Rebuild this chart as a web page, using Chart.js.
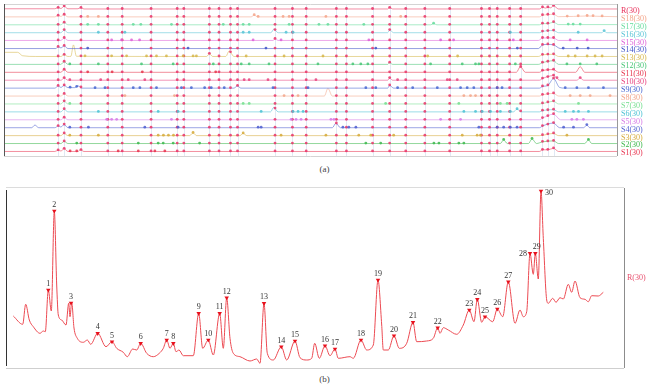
<!DOCTYPE html>
<html lang="en">
<head>
<meta charset="UTF-8">
<title>HPLC fingerprints</title>
<script src="https://cdn.jsdelivr.net/npm/chart.js@4.4.1/dist/chart.umd.min.js"></script>
<style>
  body { margin: 0; background: #fff; width: 649px; height: 388px; position: relative; overflow: hidden; font-family: "Liberation Serif", serif; }
  canvas { position: absolute; left: 0; }
  #topChart { top: 0; }
  #refChart { top: 180px; }
  .cap { position: absolute; left: 0; width: 649px; text-align: center; font-size: 9px; color: #444; }
</style>
</head>
<body>
<canvas id="topChart" width="649" height="160"></canvas>
<div class="cap" style="top:164px">(a)</div>
<canvas id="refChart" width="649" height="194"></canvas>
<div class="cap" style="top:374px">(b)</div>

<script>
// common peaks (retention time, min) and their height in the reference chromatogram
const peakLabels = ['1','2','3','4','5','6','7','8','9','10','11','12','13','14','15','16','17','18','19','20','21','22','23','24','25','26','27','28','29','30'];
const peakTimes = [4.23,4.83,6.5,9.17,10.6,13.47,16.07,16.73,19.27,20.23,21.37,22.07,25.8,27.53,28.9,31.9,32.9,35.5,37.2,38.8,40.7,43.17,46.33,47.13,47.9,49.13,50.23,52.4,52.93,53.5];
const peakSignal = [78,157,65,34.7,26.3,24.7,28,24.7,54.7,28,54.7,70.3,64.7,21.3,27,22.3,19,28,88,32.3,45.7,40.3,58,68.7,51.3,59,86.3,114.7,114.7,177];

// reference fingerprint R(30), [time, signal]
const refTrace = [
  [0.73,52],[1.67,43.7],[1.97,63.7],[2.33,48],[2.73,41.3],[3.4,34.7],[3.73,37],[3.93,36.3],
  [4.23,78],[4.53,57],[4.83,157],[5.07,83],[5.23,53],[5.57,48],[6.0,43],[6.27,64.7],[6.4,51.3],
  [6.57,65.7],[6.8,40],[7.13,29.7],[7.73,25.7],[8.13,28],[8.47,23.7],[9.17,34.7],[10.0,21.3],
  [10.6,26.3],[11.07,19.7],[11.73,15.7],[12.13,11.3],[12.67,19],[13.07,18],[13.47,24.7],[14.07,14.7],
  [14.73,11.3],[15.33,14.7],[15.73,19.7],[16.07,28],[16.4,19.7],[16.73,24.7],[17.0,16.3],[17.3,18],
  [17.73,12.3],[18.73,12.3],[19.27,54.7],[19.67,19.7],[20.23,28],[20.73,13],[21.37,54.7],[21.73,19.7],
  [22.07,70.3],[22.4,29.7],[22.73,14.7],[23.4,11.3],[24.4,7],[25.07,9],[25.4,4.7],[25.8,64.7],
  [26.13,14.7],[26.73,8],[27.53,21.3],[28.07,8],[28.9,27],[29.4,10.3],[30.07,8],[30.57,9.7],
  [30.87,24.7],[31.33,9.7],[31.9,22.3],[32.4,12.3],[32.9,19],[33.23,9.7],[34.4,11.3],[34.73,9.7],
  [35.5,28],[36.07,18],[36.73,23],[37.2,88],[37.57,43],[37.73,18],[38.23,18],[38.8,32.3],
  [39.33,19.7],[40.07,24.7],[40.7,45.7],[41.07,26.3],[42.07,27],[42.73,29.7],[43.17,40.3],[43.4,34.7],
  [43.73,40.3],[44.23,38],[45.07,33.7],[45.73,43],[46.33,58],[46.8,46.3],[47.13,68.7],[47.57,45.7],
  [47.9,51.3],[48.67,46.3],[49.13,59],[49.67,51.3],[50.23,86.3],[50.9,44.7],[51.4,58],[51.73,51.3],
  [52.07,56.3],[52.4,114.7],[52.73,93.7],[52.93,114.7],[53.23,89],[53.5,177],[53.73,129.7],[54.07,68],
  [54.23,64.7],[54.67,69.7],[55.0,65.7],[55.4,70.3],[55.73,69],[56.23,83.7],[56.57,75.7],[56.9,87],
  [57.4,70.3],[57.9,68.7],[58.23,66.3],[58.57,72.3],[59.23,72],[59.73,75.7]
];

// sample fingerprints (a), [time, signal]
const sampleNames = ['R(30)','S18(30)','S17(30)','S16(30)','S15(30)','S14(30)','S13(30)','S12(30)','S11(30)','S10(30)','S9(30)','S8(30)','S7(30)','S6(30)','S5(30)','S4(30)','S3(30)','S2(30)','S1(30)'];

const trR   = [[-1.2,0.5],[3.9,0.5],[4.23,1.5],[4.5,0.8],[4.83,3],[5.2,0.5],[6.2,0.5],[6.45,1.5],[6.8,0.3],[37,0.3],[37.2,1.5],[37.5,0.3],[52.1,0.3],[52.4,2],[52.7,1.2],[52.93,2],[53.2,1.5],[53.5,3.5],[54,0.3],[59.9,0.3]];
const trS18 = [[-1.2,0.3],[3.9,0.3],[4.23,1.5],[4.5,0.8],[4.83,2.5],[5.2,0.3],[23.4,0.3],[23.73,2],[24.1,0.3],[52.1,0.3],[52.4,2],[52.93,2.5],[53.5,3],[54,0.5],[55.5,0.8],[56.8,1.2],[58.3,0.8],[59.9,0.5]];
const trS17 = [[-1.2,0.3],[4.5,0.3],[4.83,2.5],[5.2,0.3],[41.3,0.3],[41.57,1.5],[41.9,0.3],[52.1,0.3],[52.4,1.5],[52.93,1.5],[53.5,3],[54,0.5],[59.9,0.5]];
const trS16 = [[-1.2,0.3],[4.5,0.3],[4.83,3],[5.2,0.3],[25.4,0.3],[25.68,4],[26.1,0.3],[37,0.3],[37.2,3],[37.6,0.3],[52.1,0.3],[52.4,1.5],[53.5,2.5],[54,0.3],[58.3,0.3],[58.53,2],[58.8,0.3],[59.9,0.3]];
const trS15 = [[-1.2,0.5],[4.5,0.5],[4.83,3],[5.2,0.5],[25.6,0.5],[25.8,2],[26.1,0.5],[52,0.5],[52.4,3],[52.93,3],[53.5,3],[54,0.5],[59.9,0.5]];
const trS14 = [[-1.2,0.3],[4,0.3],[4.23,2],[4.5,1],[4.83,3],[5.2,0.3],[52,0.3],[52.4,4],[52.93,4.5],[53.5,4],[54.2,0.3],[59.9,0.3]];
const trS13 = [[-1.2,4.5],[0.2,4.5],[0.7,1],[2,0.3],[4.5,0.3],[4.83,2],[5.2,0.3],[5.5,0.5],[5.75,12],[6.05,0.5],[19,0.3],[19.27,3],[19.6,0.3],[20.9,0.3],[21.25,6],[21.7,0.3],[52,0.3],[52.4,2],[53.5,2.5],[54,0.3],[59.9,0.3]];
const trS12 = [[-1.2,0.3],[4.5,0.3],[4.83,3],[5.2,0.3],[37,0.3],[37.2,2],[37.5,0.3],[52,0.3],[52.4,2],[53.5,4],[54,0.3],[59.9,0.3]];
const trS11 = [[-1.2,0.3],[4.5,0.3],[4.83,3],[5.2,0.3],[49.8,0.3],[50.2,6],[50.7,0.3],[52.1,0.3],[52.4,2],[53.5,3],[54,0.3],[55.7,0.3],[56.15,6],[56.6,0.3],[59.9,0.3]];
const trS10 = [[-1.2,0.3],[4.5,0.3],[4.83,2.5],[5.2,0.3],[37,0.3],[37.2,2.5],[37.5,0.3],[52.1,0.3],[52.4,2],[53.5,5],[54.1,0.3],[55.8,0.3],[56.15,2.5],[56.5,0.3],[59.9,0.3]];
const trS9  = [[-1.2,0.3],[3.9,0.3],[4.23,2.5],[4.5,1],[4.83,3],[5.2,0.8],[5.9,0.8],[6.25,2.5],[6.6,0.3],[21.7,0.3],[22.07,2.5],[22.4,0.3],[37,0.3],[37.2,3],[37.6,0.3],[52.1,0.3],[52.4,2],[52.93,3],[53.5,10],[54.1,1],[54.6,0.3],[59.9,0.3]];
const trS8  = [[-1.2,0.3],[4.5,0.3],[4.83,2.5],[5.2,0.3],[30.7,0.3],[31.06,8],[31.5,0.3],[52.1,0.3],[52.4,1.5],[53.5,3],[54,0.3],[59.9,0.3]];
const trS7  = [[-1.2,0.3],[4.5,0.3],[4.83,3],[5.2,0.3],[52.1,0.3],[53.5,3],[54,0.3],[59.9,0.3]];
const trS6  = [[-1.2,0.3],[4.5,0.3],[4.83,3],[5.2,0.3],[25.35,0.3],[25.68,5],[26.1,0.3],[49.5,0.3],[49.87,3],[50.3,0.3],[52.1,0.3],[52.4,1.5],[53.5,2.5],[54,0.3],[59.9,0.3]];
const trS5  = [[-1.2,0.3],[4.5,0.3],[4.83,2.5],[5.2,0.3],[52.1,0.3],[52.4,2],[53.5,6],[54.2,0.3],[59.9,0.3]];
const trS4  = [[-1.2,0.3],[1.6,0.3],[1.92,3],[2.3,0.3],[3.9,0.3],[4.23,2],[4.5,1],[4.83,3.5],[5.2,0.3],[31.5,0.3],[31.86,5],[32.3,0.3],[52.1,0.3],[52.4,2],[53.5,5],[54.1,0.3],[56.5,0.3],[56.81,3],[57.1,0.3],[59.9,0.3]];
const trS3  = [[-1.2,0.3],[4.5,0.3],[4.83,2.5],[5.2,0.3],[17.3,0.3],[17.65,3],[18,0.3],[22.3,0.3],[22.63,2.5],[23,0.3],[52.1,0.3],[53.5,2.5],[54,0.3],[59.9,0.3]];
const trS2  = [[-1.2,0.3],[4.5,0.3],[4.83,2.5],[5.2,0.3],[48.2,0.3],[48.54,4],[48.9,0.3],[51,0.3],[51.36,5],[51.8,0.3],[52.4,2],[53.5,3],[54,0.3],[56.6,0.3],[56.97,4],[57.3,0.3],[59.9,0.3]];
const trS1  = [[-1.2,0.3],[3.9,0.3],[4.23,1.5],[4.5,0.8],[4.83,3],[5.2,0.3],[6.2,0.3],[6.45,2],[6.8,0.3],[52.1,0.3],[52.4,2],[52.93,2],[53.5,3.5],[54,0.3],[59.9,0.3]];

// peaks found only in each sample (min)
const ownR   = [];
const ownS18 = [7.17,8.23,23.73,24.12,26.6,27.2,30.86,38.3,54.86,55.95,56.84,57.43,58.33];
const ownS17 = [7.17,8.23,11.7,12.45,15.5,20.65,22.63,23.23,27.2,30.17,31.06,34.63,41.57,54.96,55.45,56.15];
const ownS16 = [8.23,10.87,22.63,23.23,26.9,27.59,49.2,55.95,58.53];
const ownS15 = [9.55,10.54,11.53,12.33,23.62,26.4,35.13,42.27,43.56,49.5,55.15,56.84];
const ownS14 = [7.17,17.15,24.9,35.82,49.9,54.46,55.85,56.94];
const ownS13 = [6.9,9.55,11.04,13.02,14.01,15.0,16.66,17.65,17.98,22.93,26.7,30.57,40.98,43.96,54.96,55.65,56.84,57.63,58.33];
const ownS12 = [5.39,8.23,12.52,15.67,19.66,22.44,23.23,25.2,30.07,33.54,34.33,35.03,41.27,44.42,45.74,46.07,49.7,54.83,56.15,57.8];
const ownS11 = [7.17,9.6,12.6,19.9];
const ownS10 = [5.39,8.46,11.2,12.85,22.73,23.23,25.1,29.87,37.99,42.93,43.92,53.84,56.15];
const ownS9  = [5.42,6.08,7.9,8.89,11.7,12.36,14.01,16.49,17.48,18.8,19.46,20.75,25.6,29.08,34.83,35.82,37.99,39.49,41.94,44.25,44.91,45.57,47.89,48.38,54.66,55.82,56.97,58.46];
const ownS8  = [10.87,15.8,26.7,28.09,44.58,45.24,45.74,55.15,56.15,57.14,59.12];
const ownS7  = [5.39,22.63,23.23,36.8,44.08,48.21,48.88,55.98];
const ownS6  = [8.23,14.18,16.16,24.42,27.59,28.09,28.59,44.58,45.74,46.4,47.23,48.21,49.2,49.87,54.66,55.48,55.98,56.97];
const ownS5  = [9.06,9.55,10.05,15.5,27.4,27.89,28.39,31.36,31.66,42.27,44.25,55.32,55.82,56.47];
const ownS4  = [5.39,7.24,12.85,16.16,24.12,24.42,32.55,33.14,33.84,46.07,47.89,48.54,49.2,49.87,54.5,55.48,56.81];
const ownS3  = [5.39,8.23,14.18,14.7,15.2,15.7,17.65,22.63,26.4,30.86,34.13,35.32,37.6,44.42,45.9,46.23,54.83];
const ownS2  = [6.08,12.2,14.18,14.68,15.67,18.3,34.83,36.31,41.6,42.1,44.08,44.58,48.54,51.36,56.97];
const ownS1  = [5.42,6.08,10.2,12.2,13.85,14.84];

const sampleTraces = [trR,trS18,trS17,trS16,trS15,trS14,trS13,trS12,trS11,trS10,trS9,trS8,trS7,trS6,trS5,trS4,trS3,trS2,trS1];
const sampleOwn = [ownR,ownS18,ownS17,ownS16,ownS15,ownS14,ownS13,ownS12,ownS11,ownS10,ownS9,ownS8,ownS7,ownS6,ownS5,ownS4,ownS3,ownS2,ownS1];

const sampleColors = ['#e8305a','#f4a58a','#66dc9c','#58c4d6','#de62d8','#4054c8','#d6b64a','#48c676','#e6324a','#e8427e','#4464d0','#f2a488','#74de8e','#4cc2d4','#d67ae6','#4e5ed0','#d6aa3a','#3cb84c','#e8324e'];
const commonDot = '#ea3468';

function valueAt(tr, t) {
  for (let k = 1; k < tr.length; k++) {
    if (t <= tr[k][0]) {
      const [x0, y0] = tr[k - 1], [x1, y1] = tr[k];
      return y0 + (y1 - y0) * (t - x0) / (x1 - x0);
    }
  }
  return tr[tr.length - 1][1];
}
function withAlpha(hex, a) {
  const n = parseInt(hex.slice(1), 16);
  return `rgba(${n >> 16},${(n >> 8) & 255},${n & 255},${a})`;
}
const baseOf = i => 4.3 + 8.02 * (sampleNames.length - 1 - i);

// ---------- (a) stacked fingerprints ----------
const topSets = [];
sampleTraces.forEach((tr, i) => {
  const b = baseOf(i);
  const dots = [], cols = [];
  peakTimes.forEach(t => { dots.push({x: t, y: valueAt(tr, t) + b + 0.5}); cols.push(withAlpha(commonDot, 0.85)); });
  sampleOwn[i].forEach(t => { dots.push({x: t, y: valueAt(tr, t) + b + 0.5}); cols.push(withAlpha(sampleColors[i], 0.85)); });
  topSets.push({
    data: dots, showLine: false, pointRadius: 1.4, pointBorderWidth: 0,
    pointBackgroundColor: cols, order: 0
  });
  topSets.push({
    data: tr.map(p => ({x: p[0], y: p[1] + b})),
    showLine: true, borderColor: withAlpha(sampleColors[i], 0.62), borderWidth: 0.9,
    pointRadius: 0, cubicInterpolationMode: 'monotone', order: 1
  });
});

new Chart(document.getElementById('topChart'), {
  type: 'scatter',
  data: { datasets: topSets },
  options: {
    responsive: false, animation: false,
    layout: { padding: { left: 2, right: 32, top: 2, bottom: 4 } },
    plugins: { legend: { display: false }, tooltip: { enabled: false } },
    scales: {
      x: { type: 'linear', min: -1.155, max: 59.81, display: false },
      y: { min: 0, max: 154, display: false }
    }
  },
  plugins: [{
    id: 'topDecor',
    beforeDatasetsDraw(chart) {
      const { ctx, chartArea: a, scales } = chart;
      ctx.save();
      ctx.strokeStyle = 'rgba(170,188,220,0.35)';
      ctx.lineWidth = 1;
      peakTimes.forEach(t => {
        const x = Math.round(scales.x.getPixelForValue(t)) + 0.5;
        ctx.beginPath(); ctx.moveTo(x, a.top); ctx.lineTo(x, a.bottom); ctx.stroke();
      });
      ctx.restore();
    },
    afterDraw(chart) {
      const { ctx, chartArea: a, scales } = chart;
      ctx.save();
      ctx.lineWidth = 1;
      ctx.strokeStyle = '#d4d4d4';
      ctx.beginPath();
      ctx.moveTo(a.left, a.top + 0.5); ctx.lineTo(a.right, a.top + 0.5);
      ctx.moveTo(a.left, a.bottom + 0.5); ctx.lineTo(a.right, a.bottom + 0.5);
      ctx.stroke();
      ctx.strokeStyle = '#9a9a9a';
      ctx.beginPath(); ctx.moveTo(a.right + 0.5, a.top); ctx.lineTo(a.right + 0.5, a.bottom); ctx.stroke();
      ctx.strokeStyle = '#555';
      ctx.beginPath(); ctx.moveTo(a.left + 0.5, a.top); ctx.lineTo(a.left + 0.5, a.bottom); ctx.stroke();
      ctx.font = '8px "Liberation Serif"';
      ctx.textBaseline = 'middle';
      sampleNames.forEach((name, i) => {
        ctx.fillStyle = sampleColors[i];
        ctx.fillText(name, a.right + 4, scales.y.getPixelForValue(baseOf(i)) + 1.5);
      });
      ctx.restore();
    }
  }]
});

// ---------- (b) reference fingerprint ----------
new Chart(document.getElementById('refChart'), {
  type: 'scatter',
  data: {
    datasets: [
      {
        data: peakTimes.map((t, i) => ({x: t, y: peakSignal[i]})),
        showLine: false, pointStyle: 'triangle', rotation: 180, pointRadius: 2.6,
        pointBackgroundColor: '#e8101c', pointBorderWidth: 0, order: 0
      },
      {
        data: refTrace.map(p => ({x: p[0], y: p[1]})),
        showLine: true, borderColor: '#ec4a52', borderWidth: 1, pointRadius: 0,
        cubicInterpolationMode: 'monotone', order: 1
      }
    ]
  },
  options: {
    responsive: false, animation: false,
    layout: { padding: { left: 6, right: 25, top: 8, bottom: 6 } },
    plugins: { legend: { display: false }, tooltip: { enabled: false } },
    scales: {
      x: { type: 'linear', min: 0, max: 61.8, display: false },
      y: { min: 0, max: 180, display: false }
    }
  },
  plugins: [{
    id: 'refDecor',
    afterDraw(chart) {
      const { ctx, chartArea: a, scales } = chart;
      ctx.save();
      ctx.lineWidth = 1;
      ctx.strokeStyle = '#dcdcdc';
      ctx.beginPath(); ctx.moveTo(a.left, a.top - 0.5); ctx.lineTo(a.right, a.top - 0.5); ctx.stroke();
      ctx.strokeStyle = '#cfcfcf';
      ctx.beginPath(); ctx.moveTo(a.left, a.bottom + 0.5); ctx.lineTo(a.right, a.bottom + 0.5); ctx.stroke();
      ctx.strokeStyle = '#8c8c8c';
      ctx.beginPath(); ctx.moveTo(a.right + 0.5, a.top); ctx.lineTo(a.right + 0.5, a.bottom); ctx.stroke();
      ctx.strokeStyle = '#333';
      ctx.beginPath(); ctx.moveTo(a.left + 0.5, a.top + 2); ctx.lineTo(a.left + 0.5, a.bottom - 2); ctx.stroke();

      ctx.font = '8px "Liberation Serif"';
      ctx.fillStyle = '#333';
      peakLabels.forEach((lab, i) => {
        const x = scales.x.getPixelForValue(peakTimes[i]);
        const y = scales.y.getPixelForValue(peakSignal[i]);
        if (lab === '28') {
          ctx.textAlign = 'right'; ctx.textBaseline = 'middle';
          ctx.fillText(lab, x - 3, y + 0.5);
        } else if (lab === '30') {
          ctx.textAlign = 'left'; ctx.textBaseline = 'middle';
          ctx.fillText(lab, x + 4, y + 1.5);
        } else {
          ctx.textAlign = 'center'; ctx.textBaseline = 'bottom';
          ctx.fillText(lab, x + (lab === '29' ? 1.5 : 0), y - 2);
        }
      });
      ctx.textAlign = 'left'; ctx.textBaseline = 'middle';
      ctx.fillStyle = '#e8506e';
      ctx.fillText('R(30)', a.right + 3, (a.top + a.bottom) / 2);
      ctx.restore();
    }
  }]
});
</script>
</body>
</html>
